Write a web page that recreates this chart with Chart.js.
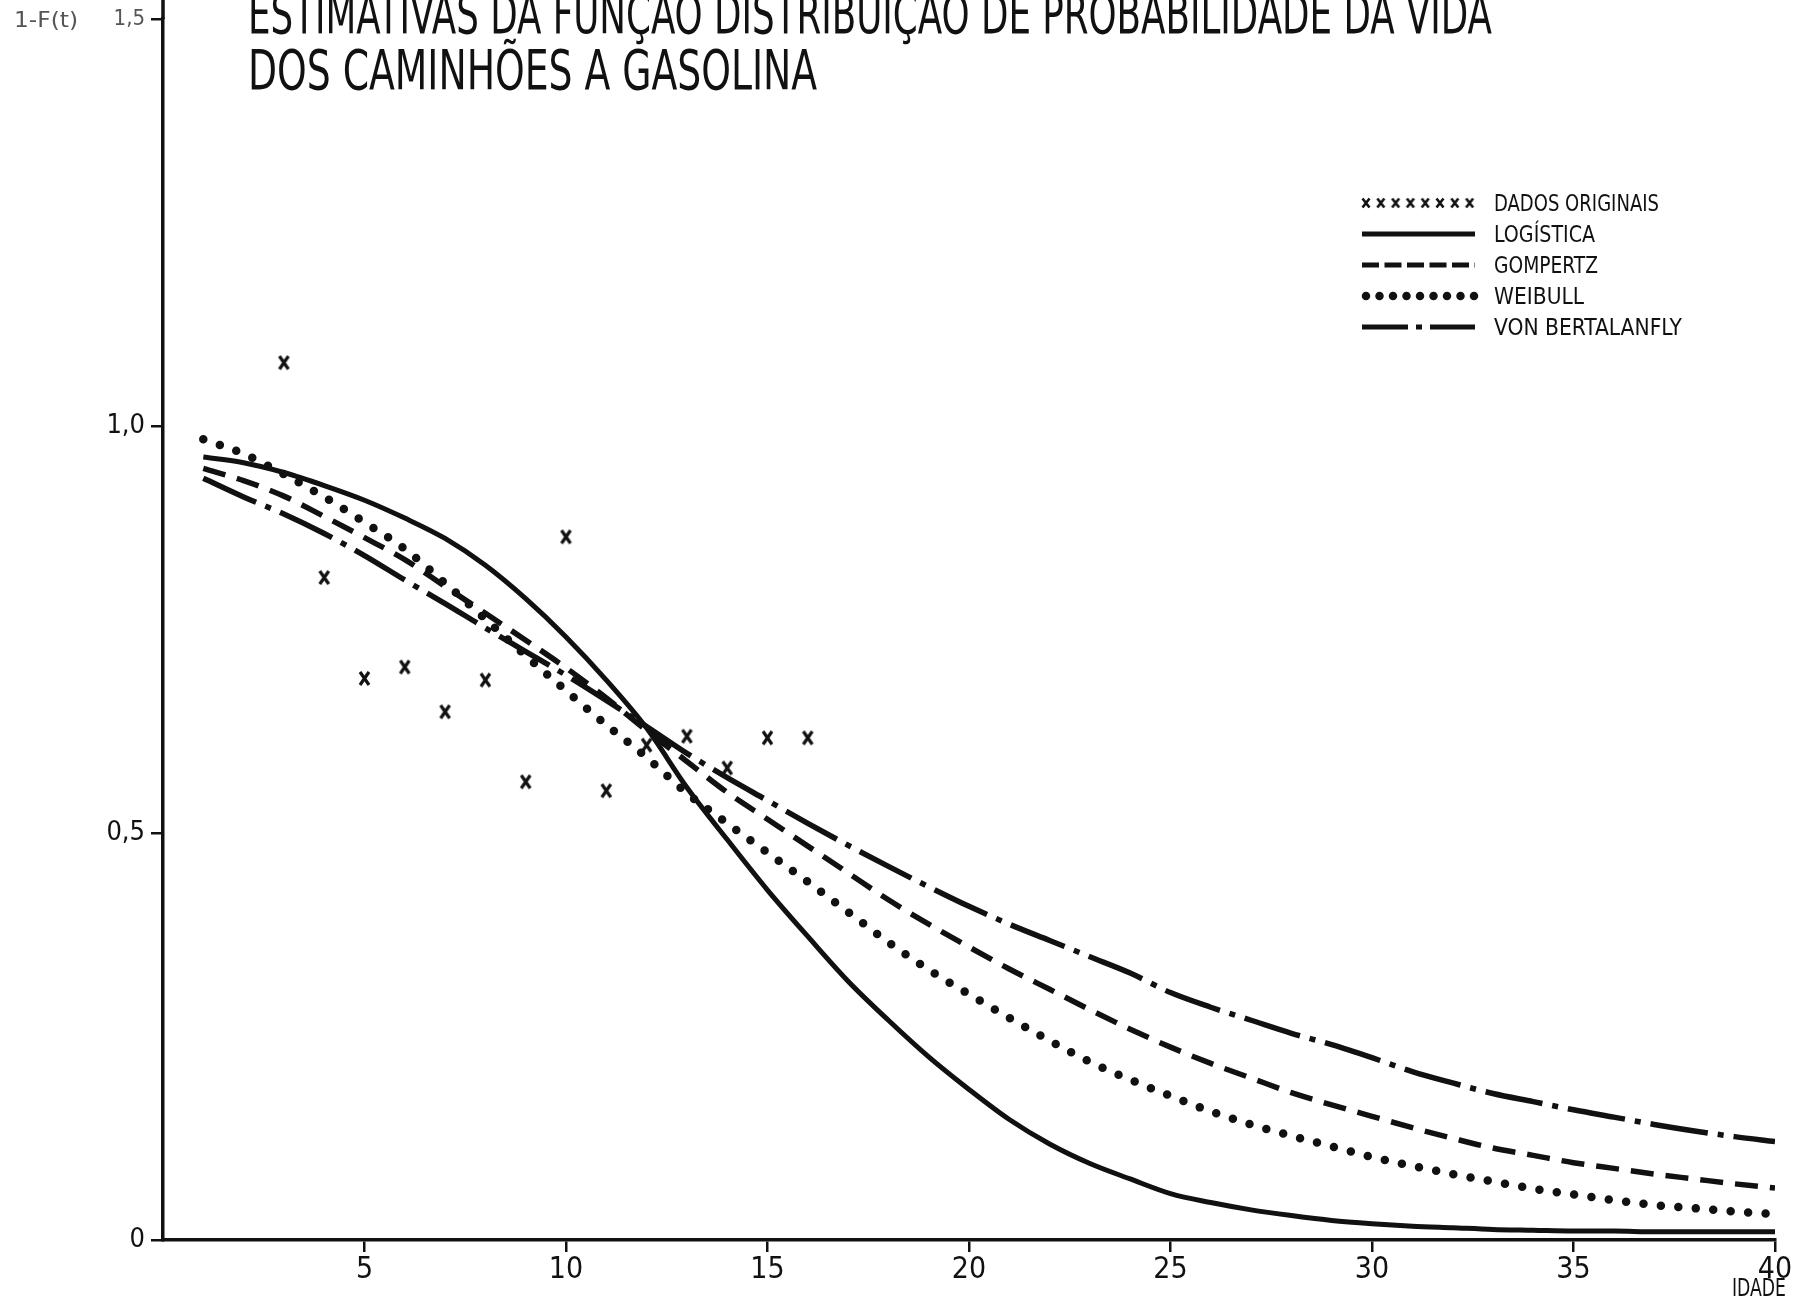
<!DOCTYPE html>
<html>
<head>
<meta charset="utf-8">
<script src="https://cdn.jsdelivr.net/npm/chart.js@4.4.1/dist/chart.umd.min.js"></script>
<style>
  html, body { margin: 0; padding: 0; background: #ffffff; }
  #wrap { width: 1810px; height: 1299px; }
</style>
</head>
<body>
<div id="wrap"><canvas id="grafico" width="1810" height="1299"></canvas></div>
<script>
// Idade (anos) em que as curvas ajustadas foram lidas
const idades = [1, 2, 3, 4, 5, 6, 7, 8, 9, 10, 11, 12, 13, 14, 15, 16, 17, 18, 19, 20,
                21, 22, 23, 24, 25, 26, 27, 28, 29, 30, 31, 32, 33, 34, 35, 36, 37, 38, 39, 40];

// 1 - F(t) estimada por cada modelo
const logistica = [0.962, 0.955, 0.943, 0.927, 0.909, 0.887, 0.862, 0.829, 0.788, 0.741,
                   0.688, 0.629, 0.556, 0.492, 0.430, 0.373, 0.318, 0.270, 0.225, 0.185,
                   0.148, 0.118, 0.094, 0.075, 0.057, 0.046, 0.037, 0.030, 0.024, 0.020,
                   0.017, 0.015, 0.013, 0.012, 0.011, 0.011, 0.010, 0.010, 0.010, 0.010];
const gompertz = [0.948, 0.933, 0.914, 0.889, 0.863, 0.836, 0.803, 0.770, 0.737, 0.703,
                  0.666, 0.626, 0.588, 0.550, 0.517, 0.484, 0.451, 0.418, 0.388, 0.360,
                  0.333, 0.308, 0.283, 0.259, 0.237, 0.217, 0.199, 0.181, 0.166, 0.152,
                  0.138, 0.125, 0.113, 0.104, 0.095, 0.088, 0.081, 0.075, 0.069, 0.064];
const weibull = [0.984, 0.966, 0.941, 0.913, 0.882, 0.849, 0.807, 0.763, 0.718, 0.675,
                 0.633, 0.593, 0.549, 0.512, 0.476, 0.440, 0.403, 0.366, 0.332, 0.302,
                 0.273, 0.245, 0.219, 0.197, 0.177, 0.158, 0.142, 0.128, 0.115, 0.102,
                 0.091, 0.081, 0.072, 0.063, 0.056, 0.049, 0.043, 0.039, 0.035, 0.032];
const bertalanffy = [0.936, 0.913, 0.892, 0.868, 0.841, 0.811, 0.782, 0.752, 0.723, 0.694,
                     0.663, 0.631, 0.598, 0.568, 0.540, 0.512, 0.485, 0.459, 0.434, 0.410,
                     0.388, 0.368, 0.348, 0.328, 0.304, 0.286, 0.270, 0.254, 0.240, 0.224,
                     0.207, 0.193, 0.180, 0.170, 0.160, 0.151, 0.142, 0.134, 0.127, 0.121];

// Dados originais (frequencia observada de sobreviventes por idade)
const idadesObs = [3, 4, 5, 6, 7, 8, 9, 10, 11, 12, 13, 14, 15, 16];
const valoresObs = [1.078, 0.814, 0.690, 0.704, 0.649, 0.688, 0.563, 0.864, 0.552, 0.608,
                    0.619, 0.580, 0.617, 0.617];

// Textos e marcas dos eixos
const titulo = ['ESTIMATIVAS DA FUNÇÃO DISTRIBUIÇÃO DE PROBABILIDADE DA VIDA',
                'DOS CAMINHÕES A GASOLINA'];
const rotuloY = '1-F(t)';
const rotuloX = 'IDADE';
const ticksY = [0, 0.5, 1.0, 1.5];
const legendaTextos = ['DADOS ORIGINAIS', 'LOGÍSTICA', 'GOMPERTZ', 'WEIBULL', 'VON BERTALANFLY'];

const ESTREITA = "'Liberation Sans Narrow', 'DejaVu Sans Condensed', 'Liberation Sans', sans-serif";
const PRETO = '#111111';

function pares(xs, ys) { return xs.map((x, i) => ({ x: x, y: ys[i] })); }

// Marca "x" usada para os dados originais
function marcaX(w, h, lw) {
  const c = document.createElement('canvas');
  c.width = Math.ceil(w + lw + 2);
  c.height = Math.ceil(h + lw + 2);
  const g = c.getContext('2d');
  const ox = (c.width - w) / 2, oy = (c.height - h) / 2;
  g.strokeStyle = PRETO;
  g.lineWidth = lw;
  g.lineCap = 'butt';
  g.beginPath();
  g.moveTo(ox, oy); g.lineTo(ox + w, oy + h);
  g.moveTo(ox + w, oy); g.lineTo(ox, oy + h);
  g.stroke();
  return c;
}
const marcaDados = marcaX(9, 13, 3.2);
const marcaLegenda = marcaX(7, 9, 2.6);

// Escreve um texto ajustado a uma largura fixa (fonte condensada)
function textoLargura(ctx, texto, x, y, largura, fonte, alinhar) {
  ctx.save();
  ctx.font = fonte;
  ctx.textAlign = 'left';
  const w = ctx.measureText(texto).width;
  const s = largura / w;
  let x0 = x;
  if (alinhar === 'center') x0 = x - largura / 2;
  if (alinhar === 'right') x0 = x - largura;
  ctx.translate(x0, y);
  ctx.scale(s, 1);
  ctx.fillText(texto, 0, 0);
  ctx.restore();
}

const anotacoes = {
  id: 'anotacoes',
  afterDraw(chart) {
    const { ctx, chartArea, scales } = chart;
    ctx.save();
    ctx.fillStyle = PRETO;
    ctx.textBaseline = 'alphabetic';

    // titulo em duas linhas
    textoLargura(ctx, titulo[0], 248, 33, 1244, `56px ${ESTREITA}`);
    textoLargura(ctx, titulo[1], 248, 89, 569, `56px ${ESTREITA}`);

    // prolongamento do eixo vertical ate o topo
    ctx.strokeStyle = PRETO;
    ctx.lineWidth = 3.5;
    ctx.beginPath();
    ctx.moveTo(chartArea.left, 0);
    ctx.lineTo(chartArea.left, chartArea.top);
    ctx.stroke();

    // rotulo do eixo vertical junto ao 1,5
    ctx.fillStyle = '#555555';
    const y15 = scales.y.getPixelForValue(1.5);
    textoLargura(ctx, rotuloY, 14, y15 + 8, 64, `22px ${ESTREITA}`);

    // rotulo do eixo horizontal
    ctx.fillStyle = PRETO;
    const x40 = scales.x.getPixelForValue(40);
    textoLargura(ctx, rotuloX, x40 - 16, 1296, 54, `24px ${ESTREITA}`, 'center');

    // legenda
    const lx0 = 1362, lx1 = 1475, tx = 1494;
    const linhas = [203, 234, 265, 296, 327];
    const larguras = [165, 101, 104, 90, 188];
    legendaTextos.forEach((t, i) => {
      textoLargura(ctx, t, tx, linhas[i] + 8, larguras[i], `23px ${ESTREITA}`);
    });
    // amostra dos dados: fileira de "x"
    for (let k = 0; k < 8; k++) {
      const cx = lx0 + 4 + k * 14.8;
      ctx.drawImage(marcaLegenda, cx - marcaLegenda.width / 2, linhas[0] - marcaLegenda.height / 2);
    }
    const amostra = (y, dash, lw, cap, xa, xb) => {
      ctx.save();
      ctx.strokeStyle = PRETO;
      ctx.lineWidth = lw;
      ctx.lineCap = cap;
      ctx.setLineDash(dash);
      ctx.beginPath();
      ctx.moveTo(xa, y);
      ctx.lineTo(xb, y);
      ctx.stroke();
      ctx.restore();
    };
    amostra(linhas[1], [], 5, 'butt', lx0, lx1);
    amostra(linhas[2], [17, 5.5], 5, 'butt', lx0, lx1);
    amostra(linhas[3], [0, 13.5], 8.5, 'round', lx0 + 4, lx1 + 1);
    amostra(linhas[4], [46, 8, 6, 8, 46], 5, 'butt', lx0, lx1);

    ctx.restore();
  }
};

const ctxG = document.getElementById('grafico').getContext('2d');

new Chart(ctxG, {
  type: 'line',
  data: {
    datasets: [
      {
        label: legendaTextos[1],
        data: pares(idades, logistica),
        borderColor: PRETO,
        borderWidth: 5,
        pointRadius: 0,
        cubicInterpolationMode: 'monotone',
        fill: false
      },
      {
        label: legendaTextos[2],
        data: pares(idades, gompertz),
        borderColor: PRETO,
        borderWidth: 5.5,
        borderDash: [23, 12],
        borderCapStyle: 'butt',
        pointRadius: 0,
        cubicInterpolationMode: 'monotone',
        fill: false
      },
      {
        label: legendaTextos[3],
        data: pares(idades, weibull),
        borderColor: PRETO,
        borderWidth: 8.5,
        borderDash: [0, 17.5],
        borderCapStyle: 'round',
        pointRadius: 0,
        cubicInterpolationMode: 'monotone',
        fill: false
      },
      {
        label: legendaTextos[4],
        data: pares(idades, bertalanffy),
        borderColor: PRETO,
        borderWidth: 5.5,
        borderDash: [58, 10, 6, 10],
        borderCapStyle: 'butt',
        pointRadius: 0,
        cubicInterpolationMode: 'monotone',
        fill: false
      },
      {
        label: legendaTextos[0],
        data: pares(idadesObs, valoresObs),
        showLine: false,
        pointStyle: marcaDados,
        pointRadius: 7,
        borderColor: PRETO,
        backgroundColor: PRETO
      }
    ]
  },
  options: {
    responsive: false,
    animation: false,
    devicePixelRatio: 1,
    layout: { padding: { left: 0, right: 35, top: 17, bottom: 0 } },
    plugins: {
      legend: { display: false },
      tooltip: { enabled: false },
      title: { display: false }
    },
    scales: {
      x: {
        type: 'linear',
        min: 0,
        max: 40,
        afterFit: (s) => { s.height = 59; },
        ticks: {
          stepSize: 5,
          padding: 0,
          color: PRETO,
          font: { family: ESTREITA, size: 30 },
          maxRotation: 0,
          callback: (v) => (v === 0 ? '' : String(v))
        },
        grid: {
          drawOnChartArea: false,
          drawTicks: true,
          tickLength: 12,
          lineWidth: 2.5,
          color: (c) => (c.tick && c.tick.value === 0 ? 'rgba(0,0,0,0)' : PRETO)
        },
        border: { display: true, color: PRETO, width: 3.5 }
      },
      y: {
        type: 'linear',
        min: 0,
        max: 1.5,
        afterFit: (s) => { s.width = 163; },
        afterBuildTicks: (s) => { s.ticks = ticksY.map((v) => ({ value: v })); },
        ticks: {
          padding: 6,
          color: (c) => (c.tick && c.tick.value === 1.5 ? '#555555' : PRETO),
          font: (c) => ({ family: ESTREITA, size: c.tick && c.tick.value === 1.5 ? 22 : 27 }),
          callback: (v) => (v === 0 ? '0' : Number(v).toFixed(1).replace('.', ','))
        },
        grid: {
          drawOnChartArea: false,
          drawTicks: true,
          tickLength: 12,
          lineWidth: 2.5,
          color: PRETO
        },
        border: { display: true, color: PRETO, width: 3.5 }
      }
    }
  },
  plugins: [anotacoes]
});
</script>
</body>
</html>
